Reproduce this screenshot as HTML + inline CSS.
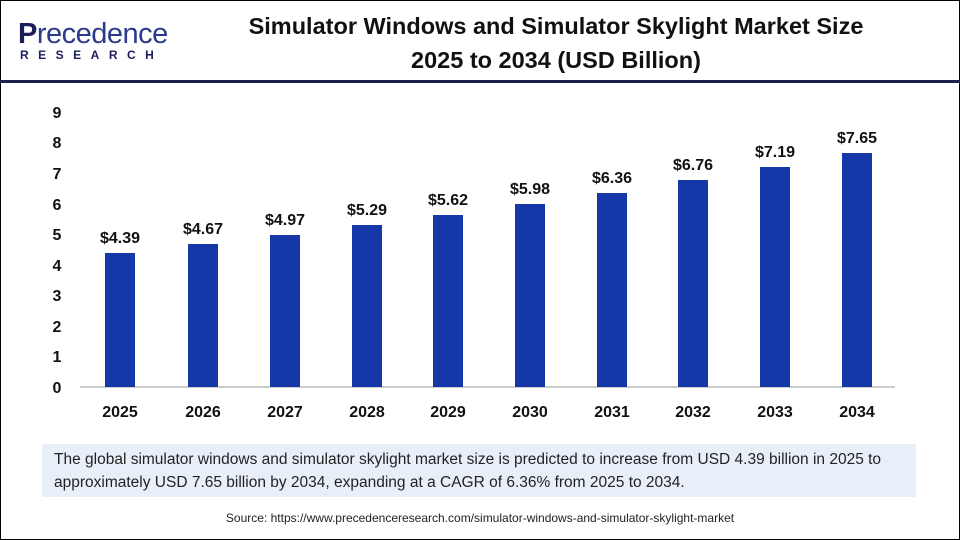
<!DOCTYPE html>
<html><head><style>
body{margin:0;width:960px;height:540px;overflow:hidden;background:#fff;font-family:"Liberation Sans",sans-serif;}
.frame{position:absolute;left:0;top:0;width:958px;height:538px;border:1px solid #000;}
</style></head><body>
<div class="frame"></div>
<div style="position:absolute;left:18px;top:18px;font-size:29px;color:#1a1f5c;letter-spacing:-0.5px;"><b>P</b><span style="color:#2a3a8c">recedence</span></div>
<div style="position:absolute;left:20px;top:48px;font-size:12px;color:#1a1f5c;font-weight:bold;letter-spacing:9.5px;">RESEARCH</div>
<div style="position:absolute;left:176px;top:9px;width:760px;text-align:center;font-size:23.5px;font-weight:bold;line-height:34px;color:#111;">Simulator Windows and Simulator Skylight Market Size<br>2025 to 2034 (USD Billion)</div>
<div style="position:absolute;left:0;top:80px;width:960px;height:3px;background:#1a1f4c;"></div>
<svg width="960" height="540" style="position:absolute;left:0;top:0">
<line x1="80" y1="387" x2="895" y2="387" stroke="#bbb" stroke-width="1.5"/>
<g font-size="16" font-weight="bold" fill="#111" text-anchor="middle" font-family="Liberation Sans">
<text x="57" y="393">0</text><text x="57" y="362">1</text><text x="57" y="332">2</text><text x="57" y="301">3</text><text x="57" y="271">4</text><text x="57" y="240">5</text><text x="57" y="210">6</text><text x="57" y="179">7</text><text x="57" y="148">8</text><text x="57" y="118">9</text>
</g>
<g font-size="16" font-weight="bold" fill="#111" text-anchor="middle" font-family="Liberation Sans">
<rect x="105" y="253" width="30" height="134" fill="#1537a8"/><text x="120" y="243">$4.39</text><text x="120" y="417">2025</text>
<rect x="188" y="244" width="30" height="143" fill="#1537a8"/><text x="203" y="234">$4.67</text><text x="203" y="417">2026</text>
<rect x="270" y="235" width="30" height="152" fill="#1537a8"/><text x="285" y="225">$4.97</text><text x="285" y="417">2027</text>
<rect x="352" y="225" width="30" height="162" fill="#1537a8"/><text x="367" y="215">$5.29</text><text x="367" y="417">2028</text>
<rect x="433" y="215" width="30" height="172" fill="#1537a8"/><text x="448" y="205">$5.62</text><text x="448" y="417">2029</text>
<rect x="515" y="204" width="30" height="183" fill="#1537a8"/><text x="530" y="194">$5.98</text><text x="530" y="417">2030</text>
<rect x="597" y="193" width="30" height="194" fill="#1537a8"/><text x="612" y="183">$6.36</text><text x="612" y="417">2031</text>
<rect x="678" y="180" width="30" height="207" fill="#1537a8"/><text x="693" y="170">$6.76</text><text x="693" y="417">2032</text>
<rect x="760" y="167" width="30" height="220" fill="#1537a8"/><text x="775" y="157">$7.19</text><text x="775" y="417">2033</text>
<rect x="842" y="153" width="30" height="234" fill="#1537a8"/><text x="857" y="143">$7.65</text><text x="857" y="417">2034</text>
</g>
</svg>
<div style="position:absolute;left:42px;top:444px;width:874px;height:53px;background:#e9eff9;padding:4px 0 0 12px;box-sizing:border-box;font-size:15.5px;line-height:23px;color:#222;">The global simulator windows and simulator skylight market size is predicted to increase from USD 4.39 billion in 2025 to approximately USD 7.65 billion by 2034, expanding at a CAGR of 6.36% from 2025 to 2034.</div>
<div style="position:absolute;left:0;top:511px;width:960px;text-align:center;font-size:12px;color:#222;">Source: https://www.precedenceresearch.com/simulator-windows-and-simulator-skylight-market</div>
</body></html>
